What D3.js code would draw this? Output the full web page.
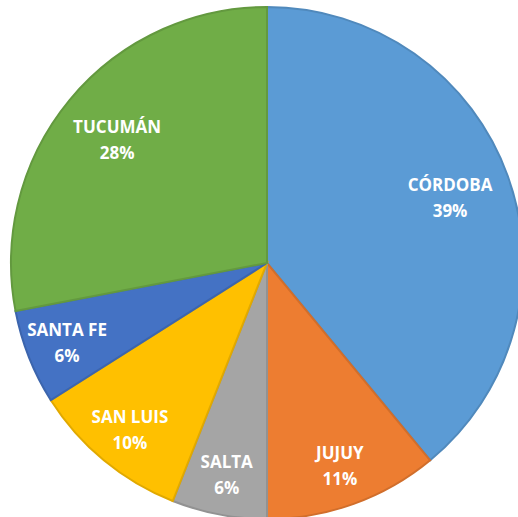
<!DOCTYPE html>
<html>
<head>
<meta charset="utf-8">
<script src="https://cdn.jsdelivr.net/npm/d3@7"></script>
<style>
  body { margin: 0; background: #fff; }
  svg { display: block; }
  .label { fill: #fff; font-family: "Open Sans", "Liberation Sans", sans-serif; font-weight: 700; font-size: 17px; }
</style>
</head>
<body>
<div id="wrapper"></div>
<script>
// data
const provinces = ["CÓRDOBA", "JUJUY", "SALTA", "SAN LUIS", "SANTA FE", "TUCUMÁN"]
const shares = [39, 11, 6, 10, 6, 28]
const fills = ["#5b9bd5", "#ed7d31", "#a5a5a5", "#ffc000", "#4472c4", "#70ad47"]

const dataset = provinces.map((p, i) => ({ name: p, value: shares[i], color: fills[i] }))

// dimensions
const dimensions = { width: 518, height: 517 }
const cx = 267
const cy = 263
const radius = 256

// canvas
const wrapper = d3.select("#wrapper")
  .append("svg")
    .attr("width", dimensions.width)
    .attr("height", dimensions.height)

const bounds = wrapper.append("g")
  .attr("transform", `translate(${cx}, ${cy})`)

// pie
const pie = d3.pie().sort(null).value(d => d.value)
const arcs = pie(dataset)

const arc = d3.arc().innerRadius(0).outerRadius(radius)

bounds.selectAll("path")
  .data(arcs)
  .join("path")
    .attr("d", arc)
    .attr("fill", d => d.data.color)
    .attr("stroke", d => d3.color(d.data.color).darker(0.35))
    .attr("stroke-width", 2)

// labels - small slices sit further out
const bigLabelArc = d3.arc().innerRadius(radius * 0.76).outerRadius(radius * 0.76)
const smallLabelArc = d3.arc().innerRadius(radius * 0.84).outerRadius(radius * 0.84)

const labels = bounds.selectAll(".label")
  .data(arcs)
  .join("text")
    .attr("class", "label")
    .attr("text-anchor", "middle")
    .attr("transform", d => {
      const [x, y] = (d.data.value < 15 ? smallLabelArc : bigLabelArc).centroid(d)
      return `translate(${x}, ${y})`
    })

labels.append("tspan")
  .attr("x", 0)
  .attr("y", -6)
  .text(d => d.data.name)

labels.append("tspan")
  .attr("x", 0)
  .attr("y", 20)
  .text(d => d.data.value + "%")
</script>
</body>
</html>
